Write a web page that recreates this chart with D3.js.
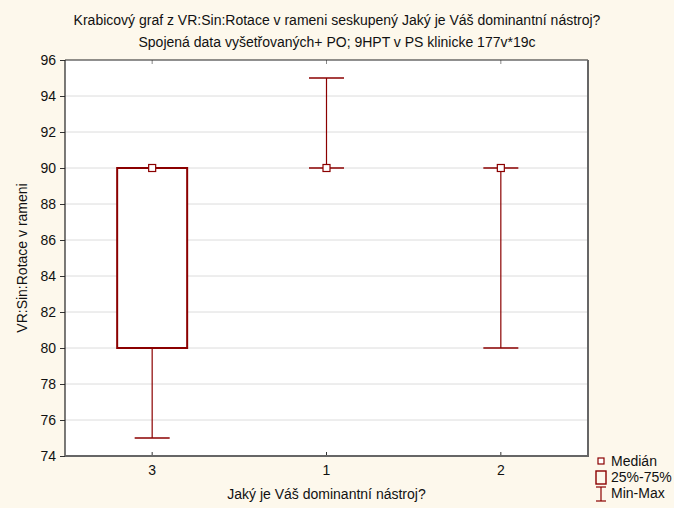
<!DOCTYPE html>
<html>
<head>
<meta charset="utf-8">
<script src="https://cdn.jsdelivr.net/npm/d3@7"></script>
<style>
  html, body { margin: 0; padding: 0; background: #fdf8ec; }
  svg { display: block; font-family: "Liberation Sans", Arial, sans-serif; }
</style>
</head>
<body>
<svg id="chart" width="674" height="508"></svg>
<script>
// Groups along the x axis (answers to "Jaký je Váš dominantní nástroj?")
const categories = ["3", "1", "2"];
// Five-number summaries of VR:Sin:Rotace v rameni per group
const minValues    = [75, 90, 80];
const q1Values     = [80, 90, 90];
const medianValues = [90, 90, 90];
const q3Values     = [90, 90, 90];
const maxValues    = [90, 95, 90];
// Y axis tick labels
const yTicks = [74, 76, 78, 80, 82, 84, 86, 88, 90, 92, 94, 96];

const titleLines = [
  "Krabicový graf z VR:Sin:Rotace v rameni seskupený Jaký je Váš dominantní nástroj?",
  "Spojená data vyšetřovaných+ PO; 9HPT v PS klinicke 177v*19c"
];
const yLabel = "VR:Sin:Rotace v rameni";
const xLabel = "Jaký je Váš dominantní nástroj?";
const legendLabels = ["Medián", "25%-75%", "Min-Max"];

const boxColor = "#8b0000";
const fontSize = 14;
const plot = { left: 65, right: 588, top: 60, bottom: 456 };

const svg = d3.select("#chart");

const x = d3.scaleBand().domain(categories).range([plot.left, plot.right]);
const y = d3.scaleLinear().domain([74, 96]).range([plot.bottom, plot.top]);

// white plot area
svg.append("rect")
  .attr("x", plot.left).attr("y", plot.top)
  .attr("width", plot.right - plot.left).attr("height", plot.bottom - plot.top)
  .attr("fill", "#ffffff");

// horizontal grid lines
svg.append("g")
  .selectAll("line")
  .data(yTicks.filter(t => t > 74 && t < 96))
  .join("line")
  .attr("x1", plot.left).attr("x2", plot.right)
  .attr("y1", d => y(d)).attr("y2", d => y(d))
  .attr("stroke", "#dcdcdc").attr("stroke-width", 1);

// titles
svg.append("g").selectAll("text")
  .data(titleLines)
  .join("text")
  .attr("x", 337).attr("y", (d, i) => 25 + i * 22)
  .attr("text-anchor", "middle")
  .attr("font-size", fontSize).attr("fill", "#111")
  .text(d => d);

// y axis
const yAxis = svg.append("g")
  .attr("transform", `translate(${plot.left},0)`)
  .call(d3.axisLeft(y).tickValues(yTicks).tickSize(5).tickPadding(4).tickFormat(d3.format("d")));
yAxis.select(".domain").remove();
yAxis.selectAll(".tick line").attr("stroke", "#333");
yAxis.selectAll(".tick text").attr("font-size", fontSize).attr("fill", "#111")
  .attr("font-family", "Liberation Sans, Arial, sans-serif");

// x axis
const xAxis = svg.append("g")
  .attr("transform", `translate(0,${plot.bottom})`)
  .call(d3.axisBottom(x).tickSize(0).tickPadding(9));
xAxis.select(".domain").remove();
xAxis.selectAll(".tick text").attr("font-size", fontSize).attr("fill", "#111")
  .attr("font-family", "Liberation Sans, Arial, sans-serif");

// small inward category ticks on the bottom and top frame
const catTicks = svg.append("g");
categories.forEach(c => {
  const cx = x(c) + x.bandwidth() / 2;
  catTicks.append("line")
    .attr("x1", cx).attr("x2", cx)
    .attr("y1", plot.bottom).attr("y2", plot.bottom - 4)
    .attr("stroke", "#333");
  catTicks.append("line")
    .attr("x1", cx).attr("x2", cx)
    .attr("y1", plot.top).attr("y2", plot.top + 4)
    .attr("stroke", "#888");
});

// frame
svg.append("line")
  .attr("x1", plot.left).attr("x2", plot.right)
  .attr("y1", plot.top).attr("y2", plot.top)
  .attr("stroke", "#222").attr("stroke-width", 1.2);
svg.append("line")
  .attr("x1", plot.left).attr("x2", plot.left)
  .attr("y1", plot.top).attr("y2", plot.bottom)
  .attr("stroke", "#222").attr("stroke-width", 1.2);
svg.append("line")
  .attr("x1", plot.right).attr("x2", plot.right)
  .attr("y1", plot.top).attr("y2", plot.bottom + 1)
  .attr("stroke", "#666").attr("stroke-width", 2);
svg.append("line")
  .attr("x1", plot.left).attr("x2", plot.right + 1)
  .attr("y1", plot.bottom).attr("y2", plot.bottom)
  .attr("stroke", "#666").attr("stroke-width", 2);

// axis titles
svg.append("text")
  .attr("transform", `translate(27,${(plot.top + plot.bottom) / 2}) rotate(-90)`)
  .attr("text-anchor", "middle")
  .attr("font-size", fontSize).attr("fill", "#111")
  .text(yLabel);
svg.append("text")
  .attr("x", (plot.left + plot.right) / 2).attr("y", 499)
  .attr("text-anchor", "middle")
  .attr("font-size", fontSize).attr("fill", "#111")
  .text(xLabel);

// boxes
const boxW = 70, capW = 35, medSize = 7;
const groups = categories.map((c, i) => ({
  cat: c, min: minValues[i], q1: q1Values[i], med: medianValues[i], q3: q3Values[i], max: maxValues[i]
}));

const g = svg.append("g").selectAll("g").data(groups).join("g")
  .attr("transform", d => `translate(${x(d.cat) + x.bandwidth() / 2},0)`);

// whiskers
g.append("line")
  .attr("x1", 0).attr("x2", 0)
  .attr("y1", d => y(d.max)).attr("y2", d => y(d.min))
  .attr("stroke", boxColor).attr("stroke-width", 1.2);
g.append("line")
  .attr("x1", -capW / 2).attr("x2", capW / 2)
  .attr("y1", d => y(d.max)).attr("y2", d => y(d.max))
  .attr("stroke", boxColor).attr("stroke-width", 1.5);
g.append("line")
  .attr("x1", -capW / 2).attr("x2", capW / 2)
  .attr("y1", d => y(d.min)).attr("y2", d => y(d.min))
  .attr("stroke", boxColor).attr("stroke-width", 1.5);

// interquartile boxes
g.filter(d => d.q3 > d.q1).append("rect")
  .attr("x", -boxW / 2).attr("width", boxW)
  .attr("y", d => y(d.q3)).attr("height", d => y(d.q1) - y(d.q3))
  .attr("fill", "#ffffff").attr("stroke", boxColor).attr("stroke-width", 2);

// median markers
g.append("rect")
  .attr("x", -medSize / 2).attr("y", d => y(d.med) - medSize / 2)
  .attr("width", medSize).attr("height", medSize)
  .attr("fill", "#ffffff").attr("stroke", boxColor).attr("stroke-width", 1.2);

// legend
const lg = svg.append("g");
lg.append("rect").attr("x", 598).attr("y", 458).attr("width", 6).attr("height", 6)
  .attr("fill", "#fff").attr("stroke", boxColor).attr("stroke-width", 1.2);
lg.append("rect").attr("x", 596).attr("y", 471).attr("width", 10).attr("height", 13)
  .attr("fill", "none").attr("stroke", boxColor).attr("stroke-width", 1.4);
lg.append("line").attr("x1", 601).attr("x2", 601).attr("y1", 487).attr("y2", 501)
  .attr("stroke", boxColor).attr("stroke-width", 1.2);
lg.append("line").attr("x1", 596).attr("x2", 606).attr("y1", 487).attr("y2", 487)
  .attr("stroke", boxColor).attr("stroke-width", 1.2);
lg.append("line").attr("x1", 596).attr("x2", 606).attr("y1", 501).attr("y2", 501)
  .attr("stroke", boxColor).attr("stroke-width", 1.2);
lg.selectAll("text").data(legendLabels).join("text")
  .attr("x", 611).attr("y", (d, i) => 466 + i * 16)
  .attr("font-size", fontSize).attr("fill", "#111")
  .text(d => d);
</script>
</body>
</html>
